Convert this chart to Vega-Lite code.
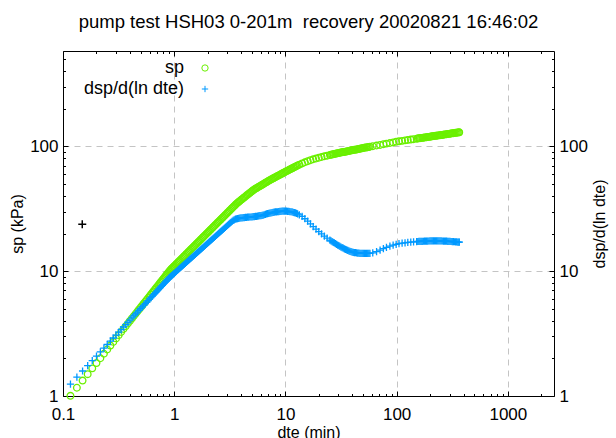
{
"$schema":"https://vega.github.io/schema/vega-lite/v6.json",
"width":491,"height":345,
"autosize":{"type":"none"},
"padding":{"left":63,"top":51,"right":62,"bottom":42},
"background":"white",
"title":{"text":"pump test HSH03 0-201m\u00a0 recovery 20020821 16:46:02","fontSize":18.5,"font":"Liberation Sans","fontWeight":"normal","color":"black","offset":19},
"config":{"font":"Liberation Sans","view":{"stroke":null},
"axis":{"domainColor":"black","tickColor":"black","labelColor":"black","titleColor":"black","labelFontSize":17,"titleFontSize":16,"titleFontWeight":"normal","labelFont":"Liberation Sans","titleFont":"Liberation Sans","domainWidth":1,"tickWidth":1,"gridColor":"#c4c4c4","gridDash":[6,5],"gridWidth":1,"labelOverlap":false,"labelFlush":false,"labelBound":false}},
"datasets":{
"marker":[{"t":0.149,"v":23.8}],
"pump":[
{"t":0.1167,"sp":1.003,"d":1.247},{"t":0.1333,"sp":1.164,"d":1.417},{"t":0.15,"sp":1.329,"d":1.586},{"t":0.1667,"sp":1.496,"d":1.754},{"t":0.1833,"sp":1.665,"d":1.921},{"t":0.2,"sp":1.835,"d":2.088},{"t":0.2167,"sp":2.007,"d":2.255},{"t":0.2333,"sp":2.182,"d":2.421},{"t":0.25,"sp":2.357,"d":2.585},{"t":0.2667,"sp":2.534,"d":2.751},{"t":0.2833,"sp":2.713,"d":2.915},{"t":0.3,"sp":2.893,"d":3.078},{"t":0.3167,"sp":3.073,"d":3.243},{"t":0.3333,"sp":3.255,"d":3.405},{"t":0.35,"sp":3.439,"d":3.569},{"t":0.3667,"sp":3.623,"d":3.731},{"t":0.3833,"sp":3.807,"d":3.892},{"t":0.4,"sp":3.996,"d":4.055},{"t":0.4167,"sp":4.183,"d":4.217},{"t":0.4333,"sp":4.37,"d":4.377},{"t":0.45,"sp":4.56,"d":4.539},{"t":0.4667,"sp":4.75,"d":4.699},{"t":0.4833,"sp":4.94,"d":4.861},{"t":0.5,"sp":5.131,"d":5.022},{"t":0.5167,"sp":5.324,"d":5.182},{"t":0.5333,"sp":5.516,"d":5.342},{"t":0.55,"sp":5.711,"d":5.501},{"t":0.5667,"sp":5.905,"d":5.656},{"t":0.5833,"sp":6.1,"d":5.815},{"t":0.6,"sp":6.297,"d":5.975},{"t":0.6167,"sp":6.493,"d":6.134},{"t":0.6333,"sp":6.689,"d":6.291},{"t":0.65,"sp":6.887,"d":6.449},{"t":0.6667,"sp":7.087,"d":6.607},{"t":0.6833,"sp":7.286,"d":6.765},{"t":0.7,"sp":7.486,"d":6.923},{"t":0.7167,"sp":7.685,"d":7.081},{"t":0.7333,"sp":7.885,"d":7.238},{"t":0.75,"sp":8.088,"d":7.397},{"t":0.7667,"sp":8.289,"d":7.554},{"t":0.7833,"sp":8.49,"d":7.71},{"t":0.8,"sp":8.694,"d":7.87},{"t":0.8167,"sp":8.898,"d":8.027},{"t":0.8333,"sp":9.101,"d":8.185},{"t":0.85,"sp":9.304,"d":8.341},{"t":0.8667,"sp":9.512,"d":8.498},{"t":0.8833,"sp":9.716,"d":8.654},{"t":0.9,"sp":9.922,"d":8.81},{"t":0.9167,"sp":10.13,"d":8.967},{"t":0.9333,"sp":10.31,"d":9.094},{"t":0.95,"sp":10.48,"d":9.226},{"t":0.9667,"sp":10.64,"d":9.354},{"t":0.9833,"sp":10.8,"d":9.484},
{"t":1.0,"sp":10.97,"d":9.612},{"t":1.023,"sp":11.19,"d":9.791},{"t":1.047,"sp":11.43,"d":9.972},{"t":1.072,"sp":11.67,"d":10.16},{"t":1.096,"sp":11.91,"d":10.35},{"t":1.122,"sp":12.16,"d":10.54},{"t":1.148,"sp":12.41,"d":10.74},{"t":1.175,"sp":12.66,"d":10.94},{"t":1.202,"sp":12.93,"d":11.14},{"t":1.23,"sp":13.2,"d":11.34},
{"t":1.259,"sp":13.47,"d":11.56},{"t":1.288,"sp":13.75,"d":11.77},{"t":1.318,"sp":14.04,"d":11.99},{"t":1.349,"sp":14.33,"d":12.21},{"t":1.38,"sp":14.63,"d":12.44},{"t":1.413,"sp":14.93,"d":12.67},{"t":1.445,"sp":15.24,"d":12.91},{"t":1.479,"sp":15.56,"d":13.15},{"t":1.514,"sp":15.88,"d":13.39},{"t":1.549,"sp":16.21,"d":13.64},
{"t":1.585,"sp":16.55,"d":13.89},{"t":1.622,"sp":16.89,"d":14.15},{"t":1.66,"sp":17.24,"d":14.41},{"t":1.698,"sp":17.6,"d":14.68},{"t":1.738,"sp":17.97,"d":14.96},{"t":1.778,"sp":18.34,"d":15.23},{"t":1.82,"sp":18.72,"d":15.52},{"t":1.862,"sp":19.11,"d":15.81},{"t":1.905,"sp":19.5,"d":16.1},{"t":1.95,"sp":19.91,"d":16.4},
{"t":1.995,"sp":20.32,"d":16.71},{"t":2.042,"sp":20.75,"d":17.02},{"t":2.089,"sp":21.18,"d":17.34},{"t":2.138,"sp":21.62,"d":17.66},{"t":2.188,"sp":22.07,"d":17.98},{"t":2.239,"sp":22.53,"d":18.32},{"t":2.291,"sp":22.99,"d":18.66},{"t":2.344,"sp":23.47,"d":19.0},{"t":2.399,"sp":23.96,"d":19.36},{"t":2.455,"sp":24.46,"d":19.72},
{"t":2.512,"sp":24.96,"d":20.08},{"t":2.57,"sp":25.48,"d":20.46},{"t":2.63,"sp":26.01,"d":20.84},{"t":2.692,"sp":26.55,"d":21.23},{"t":2.754,"sp":27.1,"d":21.62},{"t":2.818,"sp":27.67,"d":22.02},{"t":2.884,"sp":28.24,"d":22.43},{"t":2.951,"sp":28.83,"d":22.85},{"t":3.02,"sp":29.42,"d":23.27},{"t":3.09,"sp":30.04,"d":23.71},
{"t":3.162,"sp":30.66,"d":24.15},{"t":3.236,"sp":31.3,"d":24.6},{"t":3.311,"sp":31.95,"d":25.05},{"t":3.388,"sp":32.61,"d":25.52},{"t":3.467,"sp":33.29,"d":25.79},{"t":3.548,"sp":33.98,"d":26.06},{"t":3.631,"sp":34.67,"d":26.24},{"t":3.715,"sp":35.32,"d":26.36},{"t":3.802,"sp":35.92,"d":26.45},{"t":3.89,"sp":36.51,"d":26.55},
{"t":3.981,"sp":37.13,"d":26.67},{"t":4.074,"sp":37.74,"d":26.73},{"t":4.169,"sp":38.37,"d":26.79},{"t":4.266,"sp":39.01,"d":26.85},{"t":4.365,"sp":39.66,"d":26.92},{"t":4.467,"sp":40.32,"d":26.98},{"t":4.571,"sp":41.0,"d":27.04},{"t":4.677,"sp":41.68,"d":27.1},{"t":4.786,"sp":42.36,"d":27.16},{"t":4.898,"sp":43.07,"d":27.16},
{"t":5.012,"sp":43.79,"d":27.23},{"t":5.129,"sp":44.52,"d":27.29},{"t":5.248,"sp":45.12,"d":27.35},{"t":5.37,"sp":45.67,"d":27.42},{"t":5.495,"sp":46.23,"d":27.48},{"t":5.623,"sp":46.8,"d":27.54},{"t":5.754,"sp":47.38,"d":27.67},{"t":5.888,"sp":47.96,"d":27.8},{"t":6.026,"sp":48.56,"d":27.86},{"t":6.166,"sp":49.15,"d":27.99},
{"t":6.31,"sp":49.76,"d":28.12},{"t":6.457,"sp":50.38,"d":28.31},{"t":6.607,"sp":51.0,"d":28.51},{"t":6.761,"sp":51.63,"d":28.71},{"t":6.918,"sp":52.28,"d":28.84},{"t":7.079,"sp":52.92,"d":29.04},{"t":7.244,"sp":53.57,"d":29.17},{"t":7.413,"sp":54.18,"d":29.31},{"t":7.586,"sp":54.78,"d":29.44},{"t":7.762,"sp":55.39,"d":29.58},
{"t":7.943,"sp":56.0,"d":29.72},{"t":8.128,"sp":56.61,"d":29.79},{"t":8.318,"sp":57.24,"d":29.85},{"t":8.511,"sp":57.87,"d":29.92},{"t":8.71,"sp":58.51,"d":29.99},{"t":8.913,"sp":59.16,"d":30.13},{"t":9.12,"sp":59.82,"d":30.13},{"t":9.333,"sp":60.47,"d":30.2},{"t":9.55,"sp":61.14,"d":30.2},{"t":9.772,"sp":61.82,"d":30.27},
{"t":10.0,"sp":62.52,"d":30.27},{"t":10.23,"sp":63.18,"d":30.2},{"t":10.47,"sp":63.86,"d":30.13},{"t":10.72,"sp":64.54,"d":30.06},{"t":10.96,"sp":65.23,"d":29.99},{"t":11.22,"sp":65.92,"d":29.92},{"t":11.48,"sp":66.63,"d":29.79},{"t":11.75,"sp":67.34,"d":29.58},{"t":12.02,"sp":68.05,"d":29.44},{"t":12.3,"sp":68.78,"d":29.24},
{"t":12.59,"sp":69.5,"d":29.04},{"t":12.88,"sp":70.24,"d":28.71},
{"t":13.34,"sp":71.29,"d":28.25},{"t":14.13,"sp":72.95,"d":27.42},{"t":14.96,"sp":74.47,"d":26.3},{"t":15.85,"sp":76.03,"d":25.12},{"t":16.79,"sp":77.45,"d":23.93},{"t":17.78,"sp":78.7,"d":22.75},{"t":18.84,"sp":79.8,"d":21.68},{"t":19.95,"sp":80.91,"d":20.7},{"t":21.13,"sp":82.04,"d":19.86},{"t":22.39,"sp":83.18,"d":19.05},{"t":23.71,"sp":84.14,"d":18.37},
{"t":25.12,"sp":85.11,"d":17.74},{"t":25.7,"sp":85.51,"d":17.5},{"t":26.3,"sp":85.9,"d":17.26},{"t":26.92,"sp":86.3,"d":17.02},{"t":27.54,"sp":86.7,"d":16.83},{"t":28.18,"sp":87.1,"d":16.6},{"t":28.84,"sp":87.5,"d":16.41},{"t":29.51,"sp":87.9,"d":16.18},{"t":30.2,"sp":88.31,"d":16.0},{"t":30.9,"sp":88.72,"d":15.78},
{"t":31.62,"sp":89.13,"d":15.6},{"t":32.36,"sp":89.54,"d":15.42},{"t":33.11,"sp":89.95,"d":15.28},{"t":33.88,"sp":90.16,"d":15.1},{"t":34.67,"sp":90.57,"d":14.96},{"t":35.48,"sp":90.99,"d":14.79},{"t":36.31,"sp":91.41,"d":14.66},{"t":37.15,"sp":91.83,"d":14.55},{"t":38.02,"sp":92.04,"d":14.42},{"t":38.9,"sp":92.47,"d":14.32},
{"t":39.81,"sp":92.9,"d":14.22},{"t":40.74,"sp":93.33,"d":14.16},{"t":41.69,"sp":93.76,"d":14.09},{"t":42.66,"sp":93.97,"d":14.06},{"t":43.65,"sp":94.41,"d":14.0},{"t":44.67,"sp":94.84,"d":13.96},{"t":45.71,"sp":95.28,"d":13.93},{"t":46.77,"sp":95.72,"d":13.9},{"t":47.86,"sp":95.94,"d":13.9},{"t":48.98,"sp":96.38,"d":13.87},
{"t":50.12,"sp":96.83,"d":13.87},{"t":51.29,"sp":97.27,"d":13.87},{"t":52.48,"sp":97.72,"d":13.87},{"t":53.7,"sp":97.95,"d":13.87},{"t":54.95,"sp":98.4,"d":13.87},{"t":56.23,"sp":98.86,"d":13.87},{"t":57.54,"sp":99.31,"d":13.9},
{"t":61,"sp":100.2,"d":14.03},{"t":66,"sp":101.4,"d":14.35},{"t":71,"sp":102.6,"d":14.72},{"t":76,"sp":103.8,"d":15.14},{"t":81,"sp":105.1,"d":15.52},{"t":87,"sp":106.2,"d":15.89},{"t":93,"sp":107.4,"d":16.18},{"t":99,"sp":108.7,"d":16.41},{"t":105,"sp":109.6,"d":16.6},{"t":112,"sp":110.6,"d":16.75},{"t":119,"sp":111.6,"d":16.87},{"t":126,"sp":112.2,"d":16.98},{"t":134,"sp":113.2,"d":17.1},{"t":142,"sp":114.1,"d":17.18},
{"t":151.4,"sp":115.1,"d":17.26},{"t":154.9,"sp":115.5,"d":17.28},{"t":158.5,"sp":115.9,"d":17.3},{"t":162.2,"sp":116.2,"d":17.31},{"t":166.0,"sp":116.5,"d":17.33},{"t":169.8,"sp":116.9,"d":17.35},{"t":173.8,"sp":117.2,"d":17.36},{"t":177.8,"sp":117.5,"d":17.38},{"t":182.0,"sp":117.9,"d":17.39},{"t":186.2,"sp":118.3,"d":17.41},
{"t":190.5,"sp":118.7,"d":17.43},{"t":195.0,"sp":119.0,"d":17.44},{"t":199.5,"sp":119.4,"d":17.46},{"t":204.2,"sp":119.8,"d":17.46},{"t":208.9,"sp":120.2,"d":17.46},{"t":213.8,"sp":120.6,"d":17.46},{"t":218.8,"sp":120.9,"d":17.46},{"t":223.9,"sp":121.3,"d":17.46},{"t":229.1,"sp":121.7,"d":17.46},{"t":234.4,"sp":122.0,"d":17.46},
{"t":239.9,"sp":122.3,"d":17.46},{"t":245.5,"sp":122.7,"d":17.46},{"t":251.2,"sp":123.0,"d":17.46},{"t":257.0,"sp":123.4,"d":17.44},{"t":263.0,"sp":123.8,"d":17.43},{"t":269.2,"sp":124.2,"d":17.41},{"t":275.4,"sp":124.6,"d":17.39},{"t":281.8,"sp":125.0,"d":17.38},{"t":288.4,"sp":125.4,"d":17.35},{"t":295.1,"sp":125.8,"d":17.33},
{"t":302.0,"sp":126.2,"d":17.31},{"t":309.0,"sp":126.6,"d":17.28},{"t":316.2,"sp":127.1,"d":17.26},{"t":323.6,"sp":127.4,"d":17.23},{"t":331.1,"sp":127.8,"d":17.2},{"t":338.8,"sp":128.2,"d":17.16},{"t":346.7,"sp":128.6,"d":17.13},{"t":354.8,"sp":128.9,"d":17.1},{"t":363.1,"sp":129.3,"d":17.07},{"t":365.6,"sp":129.4,"d":17.06}
]},
"layer":[
{"data":{"name":"pump"},
 "mark":{"type":"point","filled":false,"size":44,"strokeWidth":1.3,"opacity":1},
 "encoding":{
  "x":{"field":"t","type":"quantitative","scale":{"type":"log","domain":[0.1,2600],"nice":false},
   "axis":{"orient":"bottom","title":"dte (min)","values":[0.1,0.2,0.3,0.4,0.5,0.6,0.7,0.8,0.9,1,2,3,4,5,6,7,8,9,10,20,30,40,50,60,70,80,90,100,200,300,400,500,600,700,800,900,1000,2000],
    "labelExpr":"indexof([0.1,1,10,100,1000], datum.value) >= 0 ? '' + datum.value : ''",
    "grid":true,"gridOpacity":{"condition":{"test":"indexof([1,10,100,1000], datum.value) >= 0","value":1},"value":0},
    "tickSize":{"condition":{"test":"indexof([0.1,1,10,100,1000], datum.value) >= 0","value":-5},"value":-2.5},
    "labelPadding":15,"titlePadding":0}},
  "y":{"field":"sp","type":"quantitative","scale":{"type":"log","domain":[1,580],"nice":false},
   "axis":{"orient":"left","title":"sp (kPa)","values":[1,2,3,4,5,6,7,8,9,10,20,30,40,50,60,70,80,90,100,200,300,400,500],
    "labelExpr":"indexof([1,10,100], datum.value) >= 0 ? '' + datum.value : ''",
    "grid":true,"gridOpacity":{"condition":{"test":"indexof([10,100], datum.value) >= 0","value":1},"value":0},
    "tickSize":{"condition":{"test":"indexof([1,10,100], datum.value) >= 0","value":-5},"value":-2.5},
    "labelPadding":10,"titlePadding":4}},
  "color":{"datum":"sp","type":"nominal","scale":{"domain":["sp","dsp/d(ln dte)"],"range":["#6af000","#0099ff"]},
   "legend":{"orient":"none","legendX":133,"legendY":8,"title":null,"labelAlign":"right","labelOffset":-30,"labelFontSize":18,"labelFont":"Liberation Sans","labelColor":"black","symbolSize":40,"symbolStrokeWidth":1,"rowPadding":3,"padding":0}},
  "shape":{"datum":"sp","type":"nominal","scale":{"domain":["sp","dsp/d(ln dte)"],"range":["circle","M-1,0H1M0,-1V1"]}}
 }},
{"data":{"name":"pump"},
 "mark":{"type":"point","filled":false,"size":52,"strokeWidth":1.3,"opacity":1},
 "encoding":{
  "x":{"field":"t","type":"quantitative","scale":{"type":"log","domain":[0.1,2600],"nice":false},
   "axis":{"orient":"top","title":null,"labels":false,"grid":false,"values":[0.1,0.2,0.3,0.4,0.5,0.6,0.7,0.8,0.9,1,2,3,4,5,6,7,8,9,10,20,30,40,50,60,70,80,90,100,200,300,400,500,600,700,800,900,1000,2000],
    "tickSize":{"condition":{"test":"indexof([0.1,1,10,100,1000], datum.value) >= 0","value":-5},"value":-2.5}}},
  "y":{"field":"d","type":"quantitative","scale":{"type":"log","domain":[1,580],"nice":false},
   "axis":{"orient":"right","title":"dsp/d(ln dte)","titleAngle":270,"titleBaseline":"top","values":[1,2,3,4,5,6,7,8,9,10,20,30,40,50,60,70,80,90,100,200,300,400,500],
    "labelExpr":"indexof([1,10,100], datum.value) >= 0 ? '' + datum.value : ''",
    "grid":false,
    "tickSize":{"condition":{"test":"indexof([1,10,100], datum.value) >= 0","value":-5},"value":-2.5},
    "labelPadding":10,"titlePadding":4}},
  "color":{"datum":"dsp/d(ln dte)","type":"nominal"},
  "shape":{"datum":"dsp/d(ln dte)","type":"nominal"}
 }},
{"data":{"name":"marker"},
 "mark":{"type":"point","shape":"M-1,0H1M0,-1V1","filled":false,"size":64,"strokeWidth":1.5,"color":"black","opacity":1},
 "encoding":{
  "x":{"field":"t","type":"quantitative","scale":{"type":"log","domain":[0.1,2600],"nice":false},"axis":null},
  "y":{"field":"v","type":"quantitative","scale":{"type":"log","domain":[1,580],"nice":false},"axis":null}
 }}
],
"resolve":{"scale":{"x":"independent","y":"independent"}}
}
